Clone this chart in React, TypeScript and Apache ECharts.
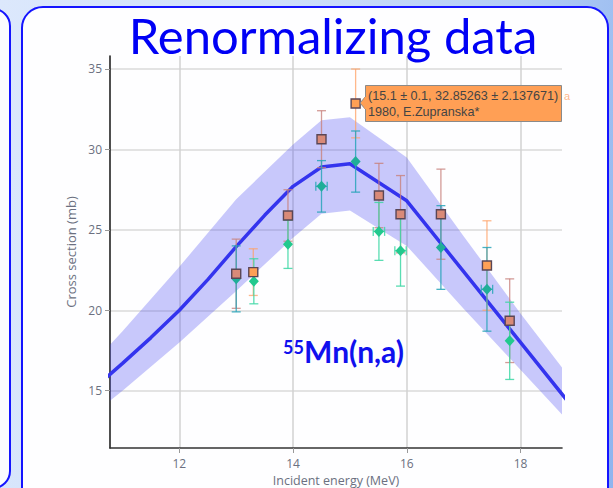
import React, { useEffect, useRef } from "react";
import * as echarts from "echarts";

// model curve (central value)
const modelX = [10.5, 11, 11.5, 12, 12.5, 13, 13.5, 14, 14.5, 15, 16, 17, 18, 19];
const modelY = [15.15, 16.7, 18.3, 20.0, 21.9, 23.95, 25.9, 27.7, 28.9, 29.1, 26.8, 22.4, 18.0, 13.6];
// uncertainty band
const bandX = [10.5, 11, 12, 13, 14, 14.5, 15, 16, 17, 18, 19];
const bandLow = [13.6, 15.0, 18.0, 21.2, 24.5, 26.0, 26.2, 24.0, 20.1, 16.3, 12.5];
const bandHigh = [16.8, 18.7, 22.7, 26.9, 30.3, 31.8, 32.0, 29.5, 24.6, 19.8, 15.2];

// data sets: [x, y, yErr, xErr]
const orangeSq = [
  [13.3, 22.37, 1.45, 0],
  [15.1, 32.85263, 2.137671, 0],
  [17.41, 22.78, 2.78, 0],
];
const brownSq = [
  [13.0, 22.27, 2.15, 0],
  [13.91, 25.89, 1.6, 0],
  [14.5, 30.63, 1.77, 0],
  [15.51, 27.13, 2.0, 0],
  [15.89, 25.97, 2.4, 0],
  [16.6, 25.97, 2.8, 0],
  [17.81, 19.35, 2.6, 0],
];
const tealDia = [
  [13.0, 21.95, 2.05, 0],
  [14.5, 27.7, 1.6, 0.1],
  [15.1, 29.24, 1.9, 0],
  [16.6, 23.9, 2.6, 0],
  [17.41, 21.3, 2.6, 0.1],
];
const mintDia = [
  [13.31, 21.8, 1.4, 0],
  [13.91, 24.1, 1.5, 0],
  [15.51, 24.9, 1.8, 0.1],
  [15.89, 23.7, 2.2, 0.1],
  [17.81, 18.1, 2.4, 0],
];

const xTicks = [12, 14, 16, 18];
const yTicks = [15, 20, 25, 30, 35];

function errorSeries(data: number[][], color: string, z: number) {
  return {
    type: "custom",
    z,
    clip: true,
    dimensions: ["x", "y", "ey", "ex"],
    encode: { x: 0, y: 1 },
    data,
    silent: true,
    renderItem: (params: any, api: any) => {
      const x = api.value(0);
      const y = api.value(1);
      const ey = api.value(2);
      const ex = api.value(3);
      const top = api.coord([x, y + ey]);
      const bot = api.coord([x, y - ey]);
      const st = { stroke: color, lineWidth: 1.3 };
      const cw = 4.5;
      const children: any[] = [
        { type: "line", shape: { x1: top[0], y1: top[1], x2: bot[0], y2: bot[1] }, style: st },
        { type: "line", shape: { x1: top[0] - cw, y1: top[1], x2: top[0] + cw, y2: top[1] }, style: st },
        { type: "line", shape: { x1: bot[0] - cw, y1: bot[1], x2: bot[0] + cw, y2: bot[1] }, style: st },
      ];
      if (ex > 0) {
        const l = api.coord([x - ex, y]);
        const r = api.coord([x + ex, y]);
        children.push(
          { type: "line", shape: { x1: l[0], y1: l[1], x2: r[0], y2: r[1] }, style: st },
          { type: "line", shape: { x1: l[0], y1: l[1] - cw, x2: l[0], y2: l[1] + cw }, style: st },
          { type: "line", shape: { x1: r[0], y1: r[1] - cw, x2: r[0], y2: r[1] + cw }, style: st }
        );
      }
      return { type: "group", children };
    },
  };
}

export default function App() {
  const ref = useRef<HTMLDivElement>(null);
  useEffect(() => {
    document.body.style.margin = "0";
    const chart = echarts.init(ref.current!, null, { renderer: "svg" });
    const axisFont = "'Open Sans', sans-serif";
    const option: any = {
      animation: false,
      grid: { left: 110, top: 56, width: 452, height: 392, outerBoundsMode: "none" },
      xAxis: {
        type: "value",
        min: 10.78,
        max: 18.73,
        axisLine: { show: true, onZero: false, lineStyle: { color: "#333", width: 1.6 } },
        axisTick: { show: true, length: 5, customValues: xTicks, lineStyle: { color: "#999", width: 1 } },
        axisLabel: { customValues: xTicks, color: "#6b7080", fontSize: 12, fontFamily: axisFont, margin: 9 },
        splitLine: { show: true, lineStyle: { color: "#d2d2d2", width: 1.5 } },
        name: "Incident energy (MeV)",
        nameLocation: "middle",
        nameGap: 24,
        nameTextStyle: { color: "#6b7080", fontSize: 12.5, fontFamily: axisFont },
      },
      yAxis: {
        type: "value",
        min: 11.44,
        max: 35.8,
        axisLine: { show: true, onZero: false, lineStyle: { color: "#222", width: 1.6 } },
        axisTick: { show: true, length: 5, customValues: yTicks, lineStyle: { color: "#999", width: 1 } },
        axisLabel: { customValues: yTicks, color: "#6b7080", fontSize: 12, fontFamily: axisFont, margin: 8 },
        splitLine: { show: true, lineStyle: { color: "#dadada", width: 1.5 } },
        name: "Cross section (mb)",
        nameLocation: "middle",
        nameGap: 30,
        nameTextStyle: { color: "#6b7080", fontSize: 13, fontFamily: axisFont },
      },
      series: [
        {
          type: "custom",
          clip: true,
          silent: true,
          z: 1,
          data: [[14, 25]],
          encode: { x: 0, y: 1 },
          renderItem: (params: any, api: any) => {
            const up = bandX.map((x, i) => api.coord([x, bandHigh[i]]));
            const lo = bandX.map((x, i) => api.coord([x, bandLow[i]])).reverse();
            return {
              type: "polygon",
              shape: { points: up.concat(lo) },
              style: { fill: "rgba(70,70,240,0.29)" },
            };
          },
        },
        {
          type: "line",
          data: modelX.map((x, i) => [x, modelY[i]]),
          symbol: "none",
          lineStyle: { color: "#3434ee", width: 3.5 },
          z: 3,
        },
        errorSeries(orangeSq, "rgba(255,160,100,0.75)", 4),
        errorSeries(brownSq, "rgba(200,130,125,0.8)", 4),
        errorSeries(tealDia, "rgba(40,165,185,0.85)", 4),
        errorSeries(mintDia, "rgba(60,215,165,0.85)", 4),
        {
          type: "scatter",
          data: tealDia.map((d) => [d[0], d[1]]),
          symbol: "diamond",
          symbolSize: [10, 11],
          itemStyle: { color: "#1fae98", opacity: 1 },
          z: 5,
        },
        {
          type: "scatter",
          data: mintDia.map((d) => [d[0], d[1]]),
          symbol: "diamond",
          symbolSize: [10, 11],
          itemStyle: { color: "#22c98e", opacity: 1 },
          z: 5,
        },
        {
          type: "scatter",
          data: brownSq.map((d) => [d[0], d[1]]),
          symbol: "rect",
          symbolSize: 9,
          itemStyle: { color: "#d98a78", borderColor: "#5a4656", borderWidth: 1.4, opacity: 1 },
          z: 6,
        },
        {
          type: "scatter",
          data: orangeSq.map((d) => [d[0], d[1]]),
          symbol: "rect",
          symbolSize: 9,
          itemStyle: { color: "#ffa055", borderColor: "#5a4656", borderWidth: 1.4, opacity: 1 },
          z: 6,
        },
      ],
      graphic: [
        {
          type: "text",
          x: 333,
          y: 10,
          style: {
            text: "Renormalizing data",
            fill: "#0000f5",
            font: "49px Lato, sans-serif",
            textAlign: "center",
          },
          z: 100,
        },
        {
          type: "text",
          x: 283,
          y: 338,
          style: { text: "55", fill: "#1010ee", font: "bold 18px Lato, sans-serif" },
          z: 100,
        },
        {
          type: "text",
          x: 304,
          y: 336,
          style: { text: "Mn(n,a)", fill: "#1010ee", font: "bold 30px Lato, sans-serif" },
          z: 100,
        },
        {
          type: "polygon",
          shape: { points: [[366, 96], [360, 103], [366, 110]] },
          style: { fill: "#ff9f55", stroke: "#8a8a8a", lineWidth: 1 },
          z: 100,
        },
        {
          type: "rect",
          shape: { x: 365.5, y: 85.5, width: 196, height: 36 },
          style: { fill: "#ff9f55", stroke: "#8a8a8a", lineWidth: 1 },
          z: 101,
        },
        {
          type: "rect",
          shape: { x: 364.5, y: 97, width: 3, height: 12 },
          style: { fill: "#ff9f55" },
          z: 102,
        },
        {
          type: "text",
          x: 368,
          y: 88,
          style: {
            text: "(15.1 ± 0.1, 32.85263 ± 2.137671)\n1980, E.Zupranska*",
            fill: "#444",
            font: "12.6px 'Liberation Sans', Arial, sans-serif",
            lineHeight: 16,
          },
          z: 103,
        },
        {
          type: "text",
          x: 564,
          y: 90,
          style: { text: "a", fill: "rgba(255,165,110,0.8)", font: "11px 'Liberation Sans', Arial, sans-serif" },
          z: 103,
        },
      ],
    };
    chart.setOption(option);
    return () => chart.dispose();
  }, []);

  return (
    <div
      style={{
        position: "fixed",
        left: 0,
        top: 0,
        width: 613,
        height: 488,
        overflow: "hidden",
        background: "linear-gradient(100deg, #dce8fc 0%, #cfe0fa 40%, #b3cdf5 75%, #8fb4ee 100%)",
      }}
    >
      <div
        style={{
          position: "absolute",
          left: -200,
          top: 8,
          width: 207,
          height: 477,
          border: "2.5px solid #1414ff",
          borderRadius: 18,
          background: "#fbfcff",
        }}
      />
      <div
        style={{
          position: "absolute",
          left: 21,
          top: 6,
          width: 584,
          height: 500,
          border: "2.5px solid #1414ff",
          borderRadius: 22,
          background: "#fefeff",
        }}
      />
      <div ref={ref} style={{ position: "absolute", left: 0, top: 0, width: 613, height: 488 }} />
    </div>
  );
}
